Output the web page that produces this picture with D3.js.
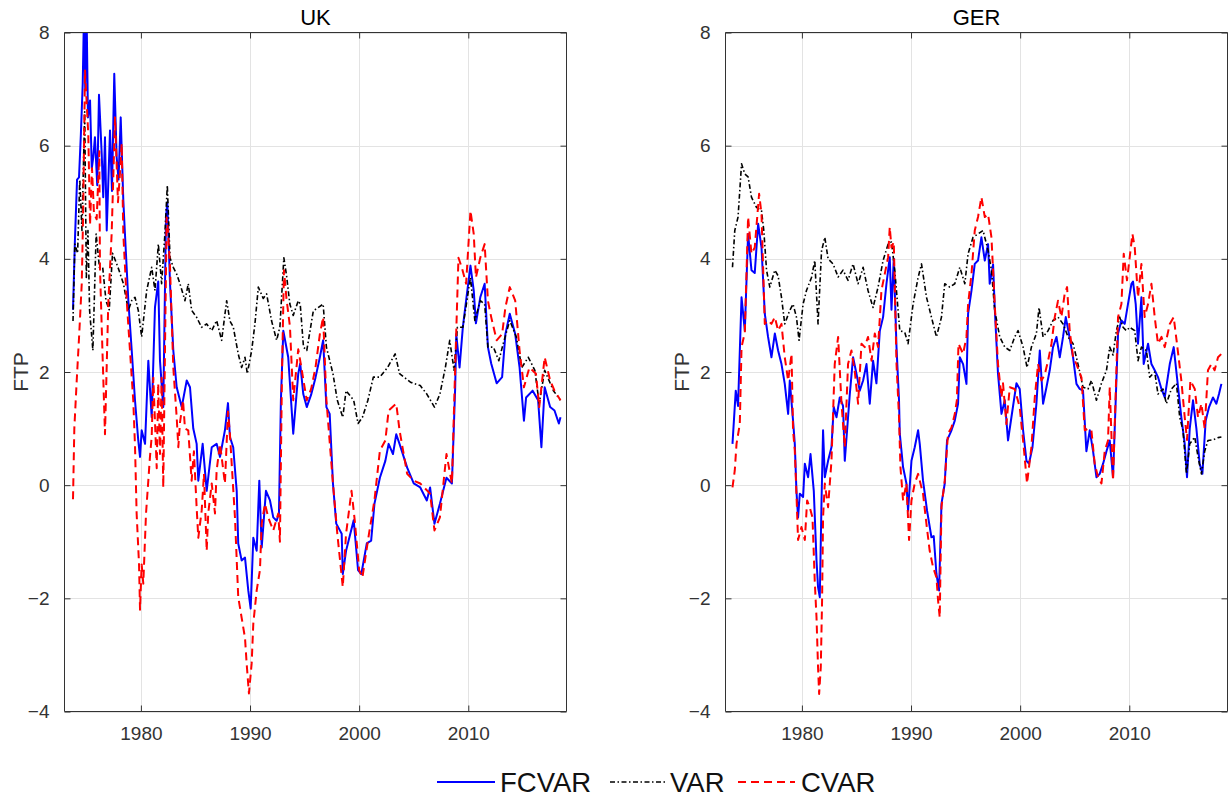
<!DOCTYPE html>
<html>
<head>
<meta charset="utf-8">
<script src="https://cdn.jsdelivr.net/npm/d3@7"></script>
<style>
html,body{margin:0;padding:0;background:#fff;}
svg{display:block;font-family:"Liberation Sans",Arial,Helvetica,sans-serif;}
</style>
</head>
<body>
<svg id="chart" width="1228" height="799"></svg>
<script>
// ---------------- DATA ----------------
const panelTitles = ["UK", "GER"];
const seriesNames = ["FCVAR", "VAR", "CVAR"];
const xTickValues = [1980, 1990, 2000, 2010];
const yTickValues = [-4, -2, 0, 2, 4, 6, 8];
const xDomain = [1973, 2019];
const yDomain = [-4, 8];

const ukFcvar = [[1973.78,3.1],[1973.95,4.3],[1974.15,5.4],[1974.33,5.44],[1974.5,6.2],[1974.67,7.1],[1974.79,8.4],[1974.9,7.0],[1975.02,8.4],[1975.15,6.5],[1975.34,6.8],[1975.5,5.6],[1975.64,5.8],[1975.79,6.15],[1976.0,5.3],[1976.16,6.9],[1976.41,5.85],[1976.55,5.09],[1976.71,6.15],[1976.87,4.5],[1977.17,6.27],[1977.35,5.2],[1977.56,7.27],[1977.78,5.8],[1977.95,5.4],[1978.15,6.5],[1978.39,5.03],[1978.54,4.44],[1978.85,3.26],[1979.16,2.38],[1979.46,1.5],[1979.76,0.79],[1979.92,0.5],[1980.07,0.97],[1980.38,0.73],[1980.68,2.2],[1980.99,1.2],[1981.29,3.14],[1981.59,3.6],[1981.75,2.2],[1982.05,1.38],[1982.3,4.73],[1982.42,5.0],[1982.67,3.56],[1982.97,2.38],[1983.28,1.73],[1983.74,1.38],[1984.2,1.85],[1984.5,1.73],[1984.8,1.0],[1985.11,0.73],[1985.26,0.08],[1985.66,0.73],[1986.03,-0.1],[1986.49,0.67],[1986.94,0.73],[1987.25,0.5],[1987.7,0.97],[1987.98,1.45],[1988.16,0.85],[1988.46,0.67],[1988.78,-0.1],[1988.92,-1.03],[1989.23,-1.33],[1989.54,-1.28],[1989.84,-1.86],[1990.06,-2.18],[1990.3,-0.93],[1990.61,-1.16],[1990.85,0.08],[1991.07,-1.1],[1991.46,-0.1],[1991.83,-0.27],[1992.13,-0.57],[1992.44,-0.63],[1992.65,-0.5],[1992.83,1.5],[1993.05,2.73],[1993.5,2.26],[1993.96,0.91],[1994.42,1.97],[1994.6,2.15],[1994.88,1.61],[1995.2,1.38],[1995.6,1.6],[1996.0,1.9],[1996.4,2.26],[1996.7,2.56],[1997.0,1.38],[1997.3,1.26],[1997.6,0.03],[1997.9,-0.68],[1998.4,-0.86],[1998.5,-1.57],[1998.8,-1.16],[1999.5,-0.62],[1999.9,-1.5],[2000.2,-1.57],[2000.7,-1.03],[2001.1,-0.98],[2001.4,-0.33],[2001.9,0.13],[2002.4,0.43],[2002.7,0.73],[2003.1,0.55],[2003.4,0.9],[2003.7,0.73],[2004.4,0.31],[2005.0,0.03],[2005.6,-0.04],[2006.2,-0.27],[2006.5,-0.04],[2006.9,-0.68],[2007.4,-0.33],[2008.0,0.13],[2008.5,0.03],[2008.8,1.73],[2008.9,2.67],[2009.2,2.08],[2009.5,2.79],[2009.8,3.26],[2010.2,3.88],[2010.5,3.44],[2010.7,2.86],[2011.1,3.32],[2011.5,3.56],[2011.8,2.44],[2012.1,2.15],[2012.6,1.8],[2013.1,1.91],[2013.4,2.67],[2013.8,3.03],[2014.3,2.67],[2014.7,2.08],[2015.1,1.14],[2015.3,1.55],[2015.9,1.67],[2016.4,1.5],[2016.7,0.67],[2017.0,1.73],[2017.5,1.38],[2017.9,1.32],[2018.3,1.09],[2018.45,1.2]];

const ukVar = [[1973.78,2.9],[1973.95,4.26],[1974.2,4.1],[1974.4,5.4],[1974.6,4.5],[1974.85,6.6],[1975.0,3.67],[1975.15,4.5],[1975.3,3.09],[1975.6,2.38],[1975.9,4.44],[1976.2,3.85],[1976.5,3.85],[1976.8,3.26],[1977.1,3.1],[1977.4,4.1],[1977.9,3.85],[1978.4,3.56],[1978.85,3.09],[1979.15,3.26],[1979.46,3.32],[1979.76,3.09],[1980.07,2.62],[1980.53,3.44],[1980.99,3.85],[1981.29,3.44],[1981.6,4.26],[1981.9,3.56],[1982.2,4.44],[1982.42,5.3],[1982.67,4.02],[1982.97,3.85],[1983.28,3.73],[1983.58,3.56],[1984.04,3.26],[1984.34,3.56],[1984.65,3.09],[1985.1,2.97],[1985.56,2.79],[1986.03,2.85],[1986.49,2.73],[1986.94,2.91],[1987.4,2.56],[1987.86,3.26],[1988.16,2.9],[1988.46,2.8],[1988.92,2.32],[1989.23,2.08],[1989.54,2.26],[1989.75,1.97],[1990.15,2.38],[1990.45,2.85],[1990.76,3.5],[1991.21,3.3],[1991.52,3.38],[1991.98,2.9],[1992.44,2.56],[1992.74,2.8],[1993.1,4.02],[1993.35,3.7],[1993.65,3.2],[1993.96,3.0],[1994.42,3.26],[1994.6,3.2],[1994.9,2.44],[1995.2,2.38],[1995.8,3.08],[1996.7,3.2],[1997.0,2.44],[1997.6,1.97],[1998.0,1.5],[1998.5,1.2],[1998.8,1.67],[1999.5,1.5],[1999.9,1.09],[2000.3,1.2],[2000.8,1.5],[2001.3,1.91],[2001.9,1.91],[2002.6,2.08],[2003.3,2.32],[2003.7,1.97],[2004.7,1.82],[2005.6,1.76],[2006.2,1.61],[2006.9,1.38],[2007.4,1.61],[2007.9,2.08],[2008.3,2.56],[2008.7,2.03],[2009.0,2.79],[2009.5,2.79],[2010.2,3.67],[2010.6,2.91],[2011.1,3.26],[2011.5,3.2],[2011.8,2.44],[2012.3,2.44],[2012.8,2.2],[2013.2,2.5],[2013.8,2.91],[2014.4,2.62],[2014.9,2.08],[2015.5,2.26],[2016.1,2.03],[2016.5,1.44],[2017.0,2.03],[2017.8,1.67],[2018.45,1.5]];

const ukCvar = [[1973.78,-0.25],[1973.9,1.0],[1974.12,1.85],[1974.33,2.6],[1974.58,3.56],[1974.7,4.7],[1974.88,7.33],[1975.18,6.2],[1975.34,4.6],[1975.52,5.6],[1975.7,4.8],[1975.95,4.7],[1976.19,5.9],[1976.25,3.85],[1976.41,2.8],[1976.71,0.9],[1977.01,3.2],[1977.32,4.44],[1977.63,6.5],[1977.9,5.0],[1978.08,5.5],[1978.24,6.04],[1978.39,4.44],[1978.7,3.26],[1979.0,2.38],[1979.3,1.5],[1979.46,0.7],[1979.61,-0.5],[1979.83,-1.4],[1979.92,-2.2],[1980.07,-1.4],[1980.22,-1.74],[1980.47,-0.5],[1980.68,0.08],[1980.83,0.5],[1980.99,0.86],[1981.14,1.9],[1981.45,0.3],[1981.59,1.8],[1981.75,0.55],[1981.9,1.9],[1982.05,-0.04],[1982.36,4.73],[1982.48,4.5],[1982.67,3.85],[1982.97,2.08],[1983.28,1.2],[1983.43,0.67],[1983.58,1.1],[1983.86,1.5],[1984.04,1.0],[1984.34,0.97],[1984.65,0.08],[1984.86,0.6],[1985.11,-0.4],[1985.26,-0.93],[1985.57,-0.45],[1985.78,0.2],[1986.03,-1.16],[1986.17,-0.5],[1986.49,0.03],[1986.79,-0.5],[1986.94,0.26],[1987.25,0.73],[1987.7,0.03],[1987.98,1.3],[1988.16,0.9],[1988.32,0.38],[1988.62,-0.57],[1988.92,-1.98],[1989.23,-2.34],[1989.54,-2.7],[1989.69,-3.15],[1989.9,-3.68],[1990.15,-3.15],[1990.3,-2.45],[1990.61,-1.86],[1990.91,-1.5],[1991.07,-0.68],[1991.37,-0.33],[1991.67,-0.57],[1992.13,-0.8],[1992.59,-0.5],[1992.74,-1.0],[1992.93,2.0],[1993.11,3.8],[1993.34,3.3],[1993.66,2.8],[1993.96,1.5],[1994.42,2.4],[1994.6,2.2],[1995.2,1.5],[1995.6,1.7],[1996.0,2.08],[1996.4,2.67],[1996.7,2.97],[1997.0,1.5],[1997.6,0.03],[1998.0,-0.86],[1998.5,-1.8],[1998.8,-0.86],[1999.3,-0.1],[1999.6,-0.63],[2000.0,-1.5],[2000.3,-1.63],[2000.9,-0.86],[2001.4,-0.27],[2001.9,0.61],[2002.4,0.79],[2002.7,1.32],[2003.4,1.44],[2003.7,0.97],[2004.4,0.2],[2005.0,0.08],[2005.6,0.03],[2006.5,-0.15],[2006.9,-0.8],[2007.4,-0.57],[2008.0,0.55],[2008.5,0.03],[2008.8,2.08],[2009.1,4.02],[2009.4,3.85],[2009.8,3.56],[2010.2,4.85],[2010.5,4.44],[2010.7,3.67],[2011.1,4.02],[2011.5,4.26],[2011.8,3.26],[2012.1,2.97],[2012.6,2.56],[2013.1,2.67],[2013.4,3.14],[2013.8,3.5],[2014.3,3.26],[2014.7,2.38],[2015.1,1.73],[2015.6,2.08],[2016.2,1.97],[2016.5,1.38],[2017.0,2.26],[2017.5,1.85],[2017.9,1.67],[2018.45,1.5]];

const gerFcvar = [[1973.64,0.73],[1973.94,1.67],[1974.15,1.4],[1974.47,3.32],[1974.77,2.73],[1975.07,4.44],[1975.38,3.8],[1975.68,3.75],[1975.99,4.62],[1976.3,4.2],[1976.6,3.03],[1976.9,2.62],[1977.21,2.26],[1977.52,2.68],[1977.82,2.38],[1978.13,2.14],[1978.43,1.79],[1978.74,1.26],[1978.89,1.85],[1979.19,1.14],[1979.35,0.73],[1979.5,-0.1],[1979.65,-0.57],[1979.81,-0.15],[1980.11,-0.21],[1980.27,0.38],[1980.57,0.14],[1980.79,0.55],[1981.09,-0.1],[1981.34,-1.33],[1981.48,-1.8],[1981.64,-1.98],[1981.8,-0.27],[1981.94,0.97],[1982.1,0.14],[1982.4,0.43],[1982.71,0.67],[1982.92,1.38],[1983.17,1.2],[1983.47,1.55],[1983.77,1.4],[1983.93,0.43],[1984.23,1.2],[1984.39,1.61],[1984.69,2.26],[1985.0,1.97],[1985.3,1.67],[1985.61,1.85],[1985.92,2.14],[1986.22,1.44],[1986.52,2.2],[1986.83,1.8],[1987.14,2.73],[1987.44,2.97],[1987.75,3.56],[1988.05,4.03],[1988.21,3.1],[1988.42,4.0],[1988.67,2.44],[1988.9,1.5],[1988.97,0.91],[1989.27,0.32],[1989.58,0.03],[1989.73,-0.45],[1990.04,0.43],[1990.34,0.67],[1990.65,0.97],[1990.8,0.73],[1991.1,0.08],[1991.47,-0.45],[1991.87,-0.92],[1992.08,-0.9],[1992.33,-1.57],[1992.57,-1.86],[1992.79,-0.33],[1993.09,0.03],[1993.3,0.79],[1993.71,0.97],[1994.01,1.14],[1994.31,1.44],[1994.47,2.26],[1994.77,2.14],[1995.08,1.79],[1995.23,3.03],[1995.54,3.44],[1995.84,3.91],[1996.14,3.97],[1996.45,4.38],[1996.76,3.97],[1997.06,4.26],[1997.21,3.56],[1997.52,3.9],[1997.67,3.14],[1997.97,1.97],[1998.29,1.26],[1998.59,1.5],[1998.89,0.79],[1999.2,1.2],[1999.66,1.8],[1999.96,1.7],[2000.27,0.97],[2000.58,0.43],[2000.81,0.38],[2001.13,0.67],[2001.49,1.44],[2001.8,2.38],[2002.1,1.44],[2002.41,1.73],[2002.71,2.03],[2003.01,2.44],[2003.33,2.62],[2003.63,2.26],[2003.93,2.62],[2004.18,2.97],[2004.54,2.6],[2004.85,2.26],[2005.16,1.79],[2005.46,1.7],[2005.76,1.67],[2006.07,0.6],[2006.38,0.97],[2006.68,0.6],[2006.99,0.14],[2007.29,0.2],[2007.6,0.38],[2007.91,0.6],[2008.21,0.79],[2008.51,0.14],[2008.82,1.85],[2008.97,2.68],[2009.28,2.91],[2009.58,2.85],[2009.88,3.2],[2010.2,3.56],[2010.34,3.6],[2010.59,3.2],[2010.8,2.5],[2011.11,3.32],[2011.32,2.14],[2011.72,2.5],[2012.03,2.14],[2012.33,2.03],[2012.63,1.91],[2012.95,1.7],[2013.25,1.55],[2013.71,2.14],[2014.07,2.44],[2014.37,1.91],[2014.77,1.2],[2015.08,0.73],[2015.29,0.14],[2015.54,1.0],[2015.84,1.5],[2016.15,1.0],[2016.45,0.38],[2016.7,0.2],[2017.0,1.14],[2017.31,1.38],[2017.67,1.55],[2017.98,1.44],[2018.22,1.61],[2018.44,1.79]];

const gerVar = [[1973.64,3.85],[1973.85,4.5],[1974.15,4.74],[1974.47,5.68],[1974.77,5.5],[1975.07,5.45],[1975.38,5.09],[1975.84,4.91],[1976.3,4.85],[1976.51,4.5],[1976.76,3.8],[1977.06,3.5],[1977.52,3.8],[1977.82,3.7],[1978.13,3.32],[1978.43,2.85],[1978.89,3.09],[1979.19,3.2],[1979.5,2.97],[1979.74,2.56],[1980.11,3.2],[1980.42,3.44],[1980.88,3.67],[1981.18,3.97],[1981.48,2.85],[1981.8,4.14],[1982.1,4.38],[1982.4,4.0],[1982.86,3.91],[1983.32,3.68],[1983.77,3.8],[1984.23,3.62],[1984.69,3.91],[1985.15,3.56],[1985.61,3.85],[1986.06,3.44],[1986.52,3.14],[1986.98,3.5],[1987.44,3.97],[1987.9,4.26],[1988.21,4.3],[1988.51,3.8],[1988.97,2.73],[1989.43,2.7],[1989.73,2.5],[1990.19,3.2],[1990.65,3.67],[1990.96,3.91],[1991.42,3.32],[1991.87,2.97],[1992.33,2.62],[1992.79,2.97],[1993.09,3.56],[1993.55,3.5],[1994.01,3.56],[1994.47,3.85],[1994.93,3.56],[1995.23,4.09],[1995.68,4.38],[1996.14,4.44],[1996.6,4.5],[1997.06,4.15],[1997.37,3.8],[1997.67,3.09],[1998.13,2.62],[1998.59,2.44],[1999.05,2.38],[1999.5,2.62],[1999.81,2.73],[2000.27,2.44],[2000.63,2.08],[2001.03,2.44],[2001.49,2.68],[2001.73,3.14],[2002.1,2.62],[2002.56,2.73],[2003.01,2.91],[2003.47,2.97],[2003.93,2.85],[2004.39,2.62],[2004.85,2.5],[2005.3,2.14],[2005.76,1.73],[2006.22,1.7],[2006.53,1.85],[2006.99,1.5],[2007.45,1.8],[2007.91,2.03],[2008.21,2.44],[2008.51,2.3],[2008.82,2.73],[2009.12,2.97],[2009.43,2.79],[2009.74,2.73],[2010.04,2.79],[2010.5,2.73],[2010.8,2.2],[2011.11,2.44],[2011.57,2.38],[2011.87,1.91],[2012.33,2.0],[2012.63,1.61],[2013.09,1.7],[2013.4,1.44],[2013.86,1.7],[2014.32,1.8],[2014.62,1.2],[2014.92,0.97],[2015.24,0.2],[2015.54,0.73],[2016.0,0.85],[2016.3,0.5],[2016.61,0.2],[2016.91,0.6],[2017.21,0.79],[2017.67,0.8],[2018.13,0.84],[2018.44,0.85]];

const gerCvar = [[1973.64,-0.04],[1973.85,0.26],[1974.01,0.73],[1974.31,1.08],[1974.47,2.44],[1974.77,2.7],[1975.07,4.74],[1975.38,4.09],[1975.68,4.2],[1976.08,5.15],[1976.3,4.79],[1976.6,2.85],[1976.9,2.91],[1977.21,2.85],[1977.52,2.97],[1977.82,2.73],[1978.13,2.85],[1978.43,2.26],[1978.74,1.85],[1979.05,2.32],[1979.19,0.97],[1979.35,0.61],[1979.5,-0.15],[1979.65,-0.97],[1979.96,-0.74],[1980.27,-0.97],[1980.48,-0.27],[1980.72,-0.39],[1980.97,-0.57],[1981.18,-1.7],[1981.34,-2.34],[1981.48,-3.22],[1981.58,-3.69],[1981.73,-3.22],[1981.85,-2.04],[1981.94,-0.57],[1982.1,0.03],[1982.4,-0.39],[1982.71,0.43],[1983.01,2.14],[1983.32,2.62],[1983.63,1.44],[1983.93,0.67],[1984.23,2.14],[1984.54,2.38],[1984.85,2.0],[1985.15,1.44],[1985.46,2.5],[1985.76,2.44],[1986.06,2.62],[1986.38,2.2],[1986.68,2.68],[1986.98,2.44],[1987.29,3.44],[1987.59,3.73],[1987.9,4.03],[1988.05,4.56],[1988.21,4.2],[1988.42,4.3],[1988.67,2.14],[1988.9,1.2],[1989.03,0.32],[1989.27,-0.27],[1989.58,0.03],[1989.82,-0.97],[1990.04,-0.27],[1990.34,0.03],[1990.65,0.2],[1990.8,0.08],[1991.1,-0.15],[1991.41,-0.68],[1991.71,-1.16],[1992.02,-1.45],[1992.33,-1.63],[1992.48,-2.04],[1992.63,-2.34],[1992.79,-0.39],[1993.09,0.08],[1993.39,0.91],[1993.71,1.02],[1994.01,1.26],[1994.2,1.5],[1994.35,2.5],[1994.77,2.32],[1995.08,2.62],[1995.23,3.2],[1995.54,3.73],[1995.84,4.5],[1996.14,4.74],[1996.45,5.09],[1996.76,4.74],[1997.06,4.79],[1997.37,4.38],[1997.67,3.2],[1997.97,2.14],[1998.29,1.55],[1998.43,1.8],[1998.74,1.08],[1999.05,1.73],[1999.5,1.7],[1999.96,1.38],[2000.33,0.67],[2000.63,0.03],[2001.03,0.67],[2001.34,1.55],[2001.64,2.14],[2001.95,1.85],[2002.25,1.95],[2002.56,2.2],[2002.87,2.5],[2003.17,2.97],[2003.47,3.26],[2003.78,2.97],[2004.08,3.38],[2004.3,3.5],[2004.54,2.73],[2004.85,2.26],[2005.16,2.14],[2005.62,1.9],[2005.92,0.97],[2006.22,1.0],[2006.53,0.97],[2006.83,0.38],[2007.14,0.14],[2007.45,0.03],[2007.75,0.6],[2008.05,0.79],[2008.21,1.73],[2008.51,0.08],[2008.82,2.03],[2008.97,2.97],[2009.28,3.2],[2009.49,4.09],[2009.79,3.62],[2010.04,4.03],[2010.29,4.44],[2010.5,4.2],[2010.8,3.32],[2011.11,3.91],[2011.41,2.97],[2011.72,3.2],[2012.03,3.56],[2012.33,2.97],[2012.63,2.5],[2012.95,2.62],[2013.25,2.44],[2013.71,2.85],[2014.07,2.97],[2014.37,2.5],[2014.77,1.85],[2015.08,1.2],[2015.29,0.8],[2015.6,1.85],[2016.0,1.7],[2016.3,1.2],[2016.61,1.44],[2016.91,1.0],[2017.21,2.03],[2017.52,2.14],[2017.82,2.03],[2018.13,2.26],[2018.44,2.32]];

const panelSeries = [[ukFcvar, ukVar, ukCvar], [gerFcvar, gerVar, gerCvar]];

// ---------------- STYLE / LAYOUT ----------------
const seriesStyles = [
  {color: "#0000ff", width: 2, dash: null},
  {color: "#000000", width: 1.6, dash: "5,2.5,1.5,2.5"},
  {color: "#ff0000", width: 2, dash: "8,5"}
];
const panels = [{x0: 64.5, x1: 566.5}, {x0: 725.5, x1: 1227.5}];
const plotTop = 32.5, plotBottom = 711.5;
const tickColor = "#333333";
const axisColor = "#333333";
const gridColor = "#e3e3e3";

const svg = d3.select("#chart");

panels.forEach((p, pi) => {
  const x = d3.scaleLinear().domain(xDomain).range([p.x0, p.x1]);
  const y = d3.scaleLinear().domain(yDomain).range([plotBottom, plotTop]);
  const g = svg.append("g");

  // grid
  g.append("g").selectAll("line").data(xTickValues).join("line")
    .attr("x1", d => Math.round(x(d)) + 0.5).attr("x2", d => Math.round(x(d)) + 0.5)
    .attr("y1", plotTop).attr("y2", plotBottom)
    .attr("stroke", gridColor).attr("stroke-width", 1);
  g.append("g").selectAll("line").data(yTickValues).join("line")
    .attr("x1", p.x0).attr("x2", p.x1)
    .attr("y1", d => Math.round(y(d)) + 0.5).attr("y2", d => Math.round(y(d)) + 0.5)
    .attr("stroke", gridColor).attr("stroke-width", 1);

  // clip
  const clipId = "clip" + pi;
  svg.append("clipPath").attr("id", clipId).append("rect")
    .attr("x", p.x0).attr("y", plotTop).attr("width", p.x1 - p.x0).attr("height", plotBottom - plotTop);

  const line = d3.line().x(d => x(d[0])).y(d => y(d[1]));
  const lg = g.append("g").attr("clip-path", `url(#${clipId})`);
  panelSeries[pi].forEach((data, si) => {
    const st = seriesStyles[si];
    lg.append("path").datum(data)
      .attr("d", line)
      .attr("fill", "none")
      .attr("stroke", st.color)
      .attr("stroke-width", st.width)
      .attr("stroke-linejoin", "round")
      .attr("stroke-dasharray", st.dash);
  });

  // axes (box style with inward ticks)
  const xAxisB = d3.axisBottom(x).tickValues(xTickValues).tickSize(-6).tickPadding(15).tickFormat(d3.format("d"));
  const xAxisT = d3.axisTop(x).tickValues(xTickValues).tickSize(-6).tickFormat("");
  const yAxisL = d3.axisLeft(y).tickValues(yTickValues).tickSize(-6).tickPadding(15).tickFormat(d3.format("d"));
  const yAxisR = d3.axisRight(y).tickValues(yTickValues).tickSize(-6).tickFormat("");

  const styleAxis = sel => {
    sel.select(".domain").attr("stroke", axisColor).attr("stroke-width", 1);
    sel.selectAll(".tick line").attr("stroke", axisColor).attr("stroke-width", 1);
    sel.selectAll(".tick text").attr("fill", tickColor)
      .style("font-size", "19px").style("font-family", "'Liberation Sans', Arial, sans-serif");
  };
  g.append("g").attr("transform", `translate(0,${plotBottom})`).call(xAxisB).call(styleAxis)
    .call(s => s.select(".domain").attr("d", `M${p.x0},0H${p.x1}`));
  g.append("g").attr("transform", `translate(0,${plotTop})`).call(xAxisT).call(styleAxis)
    .call(s => s.select(".domain").attr("d", `M${p.x0},0H${p.x1}`));
  g.append("g").attr("transform", `translate(${p.x0},0)`).call(yAxisL).call(styleAxis)
    .call(s => s.select(".domain").attr("d", `M0,${plotTop}V${plotBottom}`));
  g.append("g").attr("transform", `translate(${p.x1},0)`).call(yAxisR).call(styleAxis)
    .call(s => s.select(".domain").attr("d", `M0,${plotTop}V${plotBottom}`));

  // title
  svg.append("text")
    .attr("x", (p.x0 + p.x1) / 2).attr("y", 25)
    .attr("text-anchor", "middle")
    .style("font-size", "22px").attr("fill", "#000")
    .text(panelTitles[pi]);

  // y label
  svg.append("text")
    .attr("transform", `translate(${p.x0 - 37},${(plotTop + plotBottom) / 2}) rotate(-90)`)
    .attr("text-anchor", "middle")
    .style("font-size", "21px").attr("fill", tickColor)
    .text("FTP");
});

// ---------------- LEGEND ----------------
const legendItems = [
  {lx0: 437, lx1: 495, tx: 500},
  {lx0: 610, lx1: 667, tx: 670},
  {lx0: 738, lx1: 795, tx: 801}
];
const ly = 782;
const leg = svg.append("g");
seriesNames.forEach((name, i) => {
  const st = seriesStyles[i];
  const it = legendItems[i];
  leg.append("line")
    .attr("x1", it.lx0).attr("x2", it.lx1).attr("y1", ly).attr("y2", ly)
    .attr("stroke", st.color).attr("stroke-width", st.width)
    .attr("stroke-dasharray", st.dash);
  leg.append("text")
    .attr("x", it.tx).attr("y", ly + 10)
    .style("font-size", "27.5px").attr("fill", "#111")
    .text(name);
});
</script>
</body>
</html>
